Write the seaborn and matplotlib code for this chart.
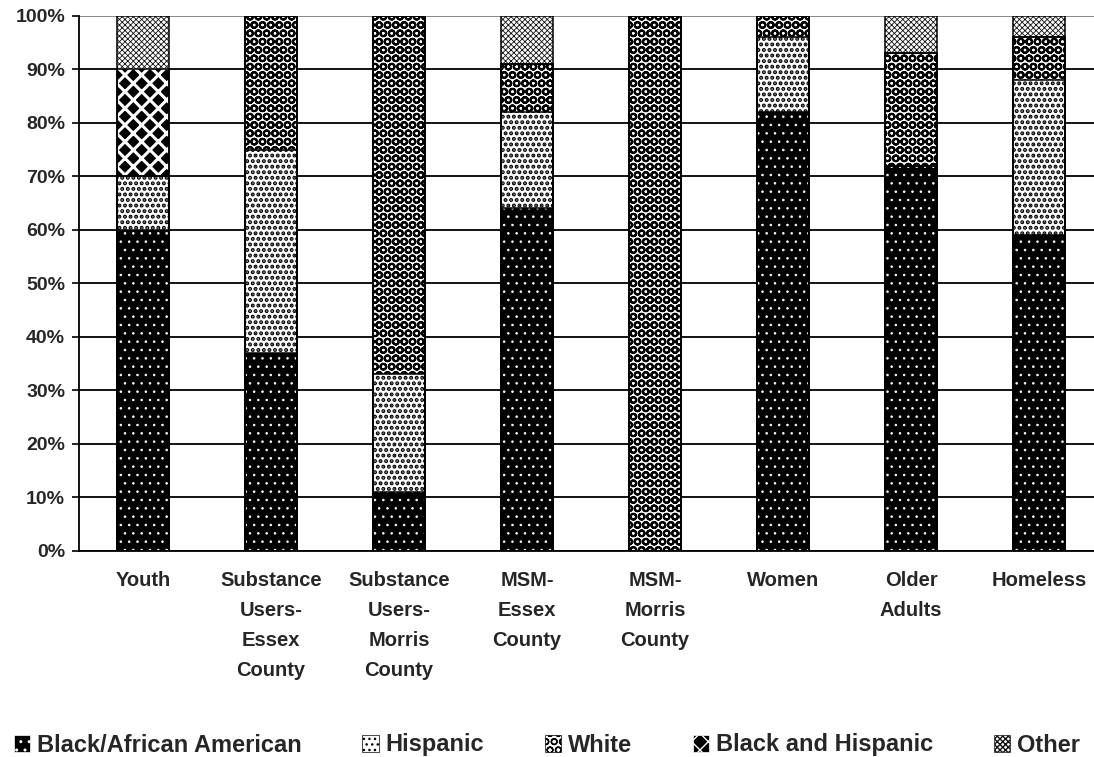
import numpy as np
import pandas as pd
import matplotlib
import matplotlib.pyplot as plt
import matplotlib.patches as mpatches
import seaborn as sns

matplotlib.use('Agg')

# data (percent of each group)
groups = ["Youth", "Substance\nUsers-\nEssex\nCounty", "Substance\nUsers-\nMorris\nCounty",
          "MSM-\nEssex\nCounty", "MSM-\nMorris\nCounty", "Women", "Older\nAdults", "Homeless"]
black_aa = [60, 37, 11, 64, 0, 82, 72, 59]
hispanic = [10, 38, 22, 18, 0, 14, 0, 29]
white = [0, 25, 67, 9, 100, 4, 21, 8]
black_hisp = [20, 0, 0, 0, 0, 0, 0, 0]
other = [10, 0, 0, 9, 0, 0, 7, 4]
series_names = ["Black/African American", "Hispanic", "White", "Black and Hispanic", "Other"]
yticks = list(range(0, 101, 10))

# face colour, hatch colour, hatch, hatch linewidth
styles = [("black", "white", "..", 0.6),
          ("white", "black", "...", 2.0),
          ("white", "black", "OO", 1.5),
          ("black", "white", "xx", 2.2),
          ("white", "#111111", "xxxxxx", 0.6)]

sns.set_style("white")
plt.rcParams['font.family'] = ['Liberation Sans', 'DejaVu Sans']
plt.rcParams['font.weight'] = 'bold'

df = pd.DataFrame({"group": groups, "Black/African American": black_aa, "Hispanic": hispanic,
                   "White": white, "Black and Hispanic": black_hisp, "Other": other})
cum = df[series_names].cumsum(axis=1)

fig = plt.figure(figsize=(10.94, 7.57), dpi=100)
ax = fig.add_axes([79/1094, 1-550.5/757, 1024/1094, 534.5/757])

# stacked bars: draw cumulative totals from the top series down
for i in reversed(range(len(series_names))):
    face, hc, h, hlw = styles[i]
    n0 = len(ax.patches)
    sns.barplot(x=df["group"], y=cum[series_names[i]], color=face, saturation=1,
                width=0.41, errorbar=None, ax=ax)
    for bar in ax.patches[n0:]:
        bar.set_facecolor(face)
        bar.set_edgecolor(hc)
        bar.set_linewidth(0)
        bar.set_hatch(h)
        if hasattr(bar, 'set_hatch_linewidth'):
            bar.set_hatch_linewidth(hlw)

# segment outlines
for i in reversed(range(len(series_names))):
    n0 = len(ax.patches)
    sns.barplot(x=df["group"], y=cum[series_names[i]], fill=False, color="black",
                width=0.41, errorbar=None, ax=ax)
    for bar in ax.patches[n0:]:
        bar.set_edgecolor("black")
        bar.set_linewidth(1.1)
        bar.set_facecolor("none")

ax.set_xlim(-0.5, len(groups) - 0.5)
ax.set_ylim(0, 100)
ax.set_yticks(yticks)
ax.set_yticklabels([f"{t}%" for t in yticks], fontsize=14, fontweight='bold')
ax.set_xticks(range(len(groups)))
ax.set_xticklabels(groups, fontsize=14.5, fontweight='bold', linespacing=1.72)
ax.set_xticks(np.arange(-0.5, len(groups), 1), minor=True)
ax.tick_params(axis='x', which='major', length=0, pad=15)
ax.tick_params(axis='x', which='minor', length=5, width=1.2, color='black', direction='out')
ax.tick_params(axis='y', length=5, width=1.2, color='black', direction='out', pad=5, left=True)
ax.set_xlabel("")
ax.set_ylabel("")

ax.set_axisbelow(True)
ax.yaxis.grid(True, color='black', linewidth=1.3)
ax.get_ygridlines()[-1].set_color('gray')
for s in ['top', 'right']:
    ax.spines[s].set_visible(False)
ax.spines['left'].set_color('black')
ax.spines['left'].set_linewidth(1.3)
ax.spines['bottom'].set_color('black')
ax.spines['bottom'].set_linewidth(1.3)

handles = []
for face, hc, h, hlw in styles:
    p = mpatches.Patch(facecolor=face, edgecolor=hc, hatch=h, linewidth=0.5)
    handles.append(p)
fig.legend(handles, series_names, loc='center', bbox_to_anchor=(0.5, 1-745/757), ncol=5,
           frameon=False, prop={'size': 17, 'weight': 'bold'}, handlelength=0.7,
           handleheight=0.7, handletextpad=0.3, columnspacing=2.55)

plt.savefig('out.png', dpi=100)
plt.close()
